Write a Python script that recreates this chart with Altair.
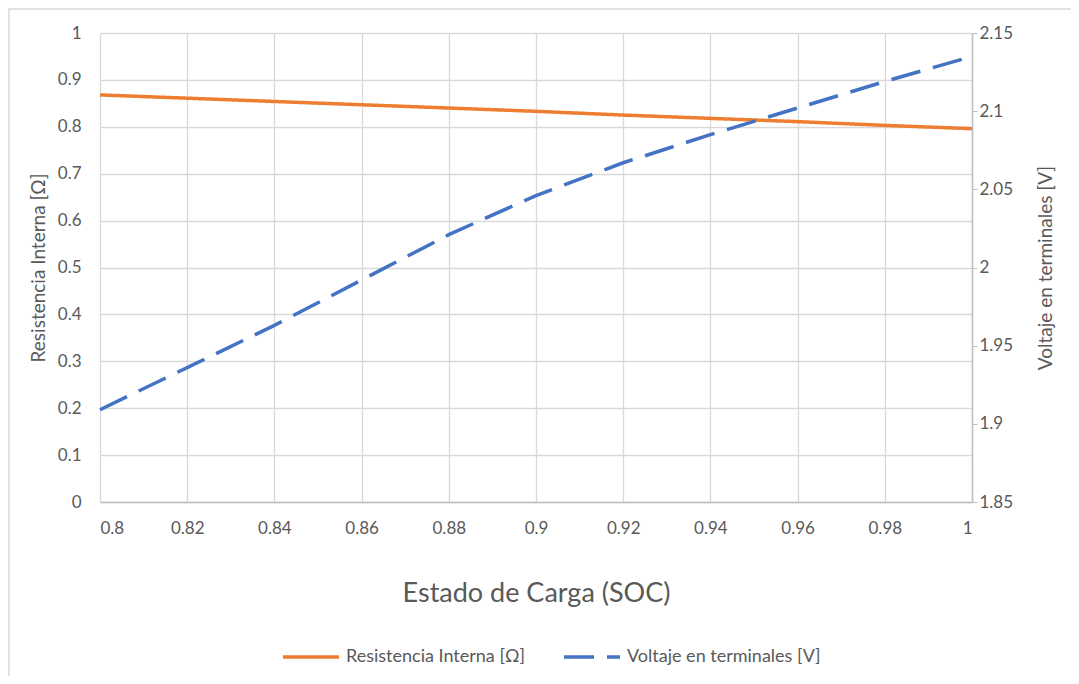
import altair as alt
import pandas as pd

soc = [0.80, 0.82, 0.84, 0.86, 0.88, 0.90, 0.92, 0.94, 0.96, 0.98, 1.00]
resistencia = [0.868, 0.861, 0.854, 0.847, 0.840, 0.833, 0.825, 0.818, 0.811, 0.803, 0.796]
voltaje = [1.909, 1.936, 1.963, 1.992, 2.021, 2.046, 2.067, 2.085, 2.102, 2.119, 2.135]

x_ticks = [0.80, 0.82, 0.84, 0.86, 0.88, 0.90, 0.92, 0.94, 0.96, 0.98, 1.00]
y_left_ticks = [0, 0.1, 0.2, 0.3, 0.4, 0.5, 0.6, 0.7, 0.8, 0.9, 1.0]
y_right_ticks = [1.85, 1.90, 1.95, 2.00, 2.05, 2.10, 2.15]

s_res = "Resistencia Interna [Ω]"
s_volt = "Voltaje en terminales [V]"

df = pd.DataFrame(
    {"soc": soc * 2,
     "value": resistencia + voltaje,
     "series": [s_res] * len(soc) + [s_volt] * len(soc)}
)

FONT = "Lato"
TXT = "#595959"
GRID = "#d9d9d9"

W, H = 872, 469

leg = alt.Legend(title=None, orient="none", direction="horizontal",
                 legendX=181, legendY=594, labelLimit=0)
color = alt.Color(
    "series:N",
    scale=alt.Scale(domain=[s_res, s_volt], range=["#ED7D31", "#4472C4"]),
    legend=leg,
)
dash = alt.StrokeDash(
    "series:N",
    scale=alt.Scale(domain=[s_res, s_volt], range=[[1, 0], [30, 13]]),
    legend=leg,
)

xenc = alt.X(
    "soc:Q",
    title="Estado de Carga (SOC)",
    scale=alt.Scale(domain=[0.8, 1.0], nice=False, zero=False),
    axis=alt.Axis(values=x_ticks, format=".2~f", grid=True, gridColor=GRID,
                  gridWidth=1.3, ticks=False, domainColor="#bfbfbf",
                  domainWidth=1.5, labelPadding=18, titleFontSize=27,
                  titlePadding=44, titleFontWeight="normal"),
)

base = alt.Chart(df)

left = base.transform_filter(alt.datum.series == s_res).mark_line(
    strokeWidth=3.5
).encode(
    x=xenc,
    y=alt.Y("value:Q", title=s_res,
            scale=alt.Scale(domain=[0, 1], nice=False),
            axis=alt.Axis(values=y_left_ticks, format=".1~f", grid=True,
                          gridColor=GRID, gridWidth=1.3, ticks=False,
                          domain=False, labelPadding=19, titlePadding=9,
                          titleFontSize=19, titleFontWeight="normal")),
    color=color,
    strokeDash=dash,
)

right = base.transform_filter(alt.datum.series == s_volt).mark_line(
    strokeWidth=3.5
).encode(
    x=xenc,
    y=alt.Y("value:Q", title=s_volt,
            scale=alt.Scale(domain=[1.85, 2.15], nice=False, zero=False),
            axis=alt.Axis(orient="right", values=y_right_ticks, format=".2~f",
                          grid=False, ticks=True, tickSize=5, tickColor="#bfbfbf",
                          domainColor="#bfbfbf", domainWidth=1.5, labelPadding=2,
                          titlePadding=24, titleFontSize=19, titleAngle=270,
                          titleBaseline="top",
                          titleFontWeight="normal")),
    color=color,
    strokeDash=dash,
)

frame = alt.Chart(pd.DataFrame({"k": [0]})).mark_rect(
    fill=None, stroke=GRID, strokeWidth=1.5
).encode(
    x=alt.value(-91), x2=alt.value(W + 200),
    y=alt.value(-24), y2=alt.value(H + 300),
)

chart = alt.layer(frame, left, right).resolve_scale(
    y="independent"
).properties(
    width=W, height=H,
    autosize=alt.AutoSizeParams(type="none"),
    padding={"left": 92, "top": 25, "right": 99, "bottom": 174},
).configure_view(
    stroke=None
).configure_axis(
    labelFont=FONT, titleFont=FONT, labelColor=TXT, titleColor=TXT,
    labelFontSize=17,
).configure_legend(
    labelFont=FONT, labelColor=TXT, labelFontSize=18,
    symbolType="stroke", symbolSize=3136, symbolStrokeWidth=3.5,
    labelOffset=5, columnPadding=32, padding=0,
)

chart.save("out.html", embed_options={"renderer": "svg", "actions": False})
